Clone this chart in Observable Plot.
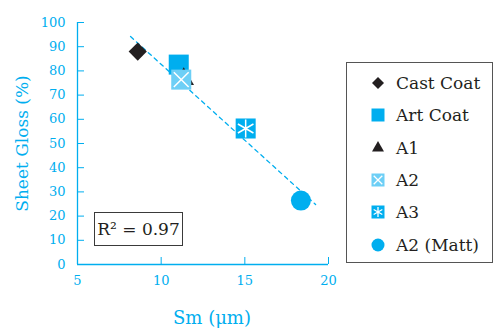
<!DOCTYPE html>
<html>
<head>
<meta charset="utf-8">
<script src="https://cdn.jsdelivr.net/npm/d3@7"></script>
<script src="https://cdn.jsdelivr.net/npm/@observablehq/plot@0.6"></script>
<style>
  html, body { margin: 0; padding: 0; background: #fff; }
  #wrap { position: relative; width: 495px; height: 328px; font-family: "DejaVu Serif", "Liberation Serif", serif; }
  #r2 { position: absolute; left: 94px; top: 212px; width: 89px; height: 34px; border: 1.3px solid #3a3a3a;
        font-size: 17px; color: #231f20; display: flex; align-items: center; justify-content: center; box-sizing: border-box; }
  #legend { position: absolute; left: 346px; top: 62px; width: 147px; height: 201px; border: 1.3px solid #555;
            box-sizing: border-box; padding-top: 4px; }
  .row { display: flex; align-items: center; height: 32.3px; font-size: 17px; color: #231f20; }
  .row svg { margin-left: 23px; margin-right: 10px; }
</style>
</head>
<body>
<div id="wrap"></div>
<script>
const categories = ["Cast Coat", "Art Coat", "A1", "A2", "A3", "A2 (Matt)"];
const smValues = [8.6, 11.05, 11.35, 11.2, 15.05, 18.35];
const glossValues = [88, 82.6, 76.6, 76.4, 56.2, 26.4];
const fitSm = [8.17, 19.23];
const fitGloss = [94.2, 24.8];
const xTicks = [5, 10, 15, 20];
const yTicks = [0, 10, 20, 30, 40, 50, 60, 70, 80, 90, 100];
const r2Label = "R² = 0.97";

const FONT = "DejaVu Serif, Liberation Serif, serif";
const CYAN = "#00aeef", LIGHT = "#6dcff6", BLACK = "#231f20";
const symbols = ["diamond2", "square", "triangle", "square", "square", "circle"];
const fills = [BLACK, CYAN, BLACK, LIGHT, CYAN, CYAN];
const radii = [8.2, 11.3, 7.6, 11.3, 11.3, 10];
const overlays = [null, null, null, "times", "asterisk", null];
const overlayR = [0, 0, 0, 6.8, 8.5, 0];

const data = categories.map((c, i) => ({cat: c, sm: smValues[i], gloss: glossValues[i], i}));
const fit = fitSm.map((s, i) => ({sm: s, gloss: fitGloss[i]}));

const marks = [
  Plot.line(fit, {x: "sm", y: "gloss", stroke: CYAN, strokeWidth: 1.3, strokeDasharray: "4,4"}),
  Plot.ruleX([5], {stroke: CYAN, strokeWidth: 1.3}),
  Plot.ruleY([0], {stroke: CYAN, strokeWidth: 1.3}),
  Plot.axisX({ticks: xTicks, tickSize: -7, tickPadding: 18, stroke: CYAN, color: CYAN, fontSize: 13, fontFamily: FONT, label: null}),
  Plot.axisY({ticks: yTicks, tickSize: -7, tickPadding: 19, stroke: CYAN, color: CYAN, fontSize: 13, fontFamily: FONT, label: null}),
];
data.forEach(d => {
  marks.push(Plot.dot([d], {x: "sm", y: "gloss", symbol: () => symbols[d.i], fill: fills[d.i], r: radii[d.i], stroke: "none"}));
  if (overlays[d.i]) {
    marks.push(Plot.dot([d], {x: "sm", y: "gloss", symbol: () => overlays[d.i], stroke: "white", strokeWidth: 1.5, r: overlayR[d.i], fill: "none"}));
  }
});
marks.push(Plot.text(["Sheet Gloss (%)"], {frameAnchor: "left", textAnchor: "middle", lineAnchor: "middle", dx: -55, rotate: -90, fontSize: 17, fill: CYAN, fontFamily: FONT}));
marks.push(Plot.text(["Sm (μm)"], {frameAnchor: "bottom", textAnchor: "middle", lineAnchor: "middle", dx: 9, dy: 54, fontSize: 18, fill: CYAN, fontFamily: FONT}));

const chart = Plot.plot({
  width: 495, height: 328,
  marginLeft: 77, marginRight: 167, marginTop: 22, marginBottom: 64,
  x: {domain: [5, 20]},
  y: {domain: [0, 100]},
  style: {fontFamily: FONT, background: "white", overflow: "visible"},
  marks
});
const wrap = document.getElementById("wrap");
wrap.appendChild(chart);

const box = document.createElement("div");
box.id = "r2"; box.textContent = r2Label;
wrap.appendChild(box);

const legend = document.createElement("div");
legend.id = "legend";
const legSym = [d3.symbolDiamond2, d3.symbolSquare, d3.symbolTriangle, d3.symbolSquare, d3.symbolSquare, d3.symbolCircle];
const legSize = [92, 169, 62, 169, 169, 133];
const legOver = [null, null, null, [d3.symbolTimes, 50], [d3.symbolAsterisk, 70], null];
categories.forEach((c, i) => {
  const row = document.createElement("div");
  row.className = "row";
  const svg = d3.create("svg").attr("width", 16).attr("height", 16).attr("viewBox", "-8 -8 16 16");
  svg.append("path").attr("d", d3.symbol(legSym[i], legSize[i])()).attr("fill", fills[i]);
  if (legOver[i]) svg.append("path").attr("d", d3.symbol(legOver[i][0], legOver[i][1])()).attr("fill", "none").attr("stroke", "white").attr("stroke-width", 1.3);
  row.appendChild(svg.node());
  const span = document.createElement("span");
  span.textContent = c;
  row.appendChild(span);
  legend.appendChild(row);
});
wrap.appendChild(legend);
</script>
</body>
</html>
